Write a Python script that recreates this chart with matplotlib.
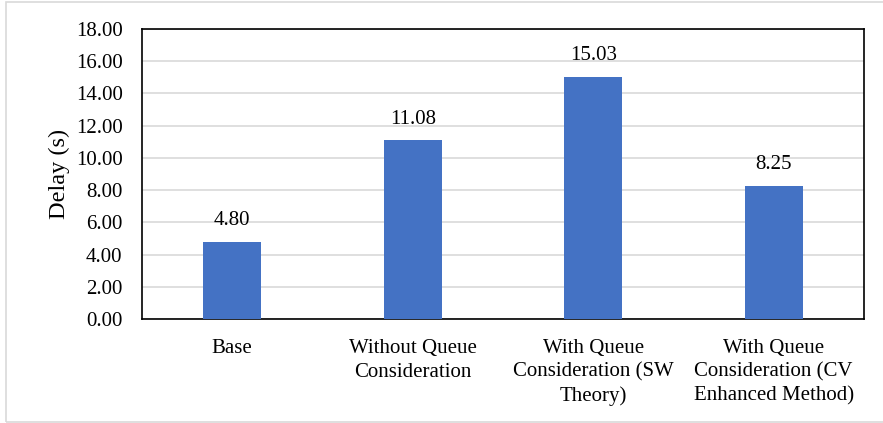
import numpy as np
import matplotlib.pyplot as plt
from matplotlib.patches import Rectangle

categories = ["Base", "Without Queue\nConsideration",
              "With Queue\nConsideration (SW\nTheory)",
              "With Queue\nConsideration (CV\nEnhanced Method)"]
delays = [4.80, 11.08, 15.03, 8.25]
yticks = np.arange(0, 18.01, 2)

plt.rcParams["font.family"] = ["Liberation Serif", "DejaVu Serif"]
plt.rcParams["font.size"] = 15

fig = plt.figure(figsize=(8.83, 4.23), dpi=100)
ax = fig.add_axes([142 / 883, 1 - 319 / 423, 722 / 883, 290 / 423])

x = np.arange(len(categories))
bars = ax.bar(x, delays, width=0.32, color="#4472C4", zorder=3)
for b, v in zip(bars, delays):
    ax.annotate(f"{v:.2f}", (b.get_x() + b.get_width() / 2, v),
                xytext=(0, 12), textcoords="offset points",
                ha="center", va="baseline", fontsize=15)

ax.set_xlim(-0.5, len(categories) - 0.5)
ax.set_ylim(0, 18)
ax.set_yticks(yticks)
ax.set_yticklabels([f"{t:.2f}" for t in yticks])
ax.set_xticks(x)
ax.set_xticklabels(categories, linespacing=1.32)
ax.tick_params(length=0)
ax.tick_params(axis="y", pad=14)
ax.tick_params(axis="x", pad=14.5)
ax.set_ylabel("Delay (s)", fontsize=17.5, labelpad=4)
ax.grid(axis="y", color="#d9d9d9", linewidth=1.2, zorder=0)
for s in ax.spines.values():
    s.set_color("black")
    s.set_linewidth(1.2)

# light border around the whole chart area
fig.patches.append(Rectangle((6 / 883, 1 / 423), 890 / 883, 420 / 423,
                             transform=fig.transFigure, fill=False,
                             edgecolor="#d9d9d9", linewidth=1.2))

fig.savefig("out.png", dpi=100)
